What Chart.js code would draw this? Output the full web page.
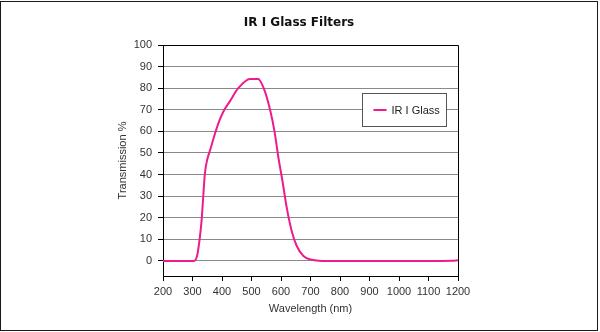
<!DOCTYPE html>
<html>
<head>
    <title>IR I Glass Filters</title>
    <style>
        body {
            margin: 0;
            background-color: #fff;
        }

        #wrap {
            position: relative;
            width: 600px;
            height: 332px;
        }

        #frame {
            position: absolute;
            left: 0;
            top: 1px;
            width: 598px;
            height: 330px;
            border: 1.5px solid #1a1a1a;
            box-sizing: border-box;
            pointer-events: none;
        }
    </style>
    <script src="https://cdn.jsdelivr.net/npm/chart.js"></script>
</head>
<body>
    <div id="wrap">
        <canvas id="chart"></canvas>
        <div id="frame"></div>
    </div>
    <script>
        // values
        var wavelengths = [200, 300, 305, 316, 325, 331, 337, 342, 350, 359, 373, 387, 404, 427, 455, 495, 523, 535, 548, 563, 578, 591, 605, 619, 636, 653, 676, 704, 740, 800, 900, 1000, 1100, 1180, 1200];
        var transmission = [0, 0, 0, 2.6, 11, 19, 31, 40.5, 47, 51, 57.5, 63.5, 69, 74, 80, 84.3, 84.3, 82, 77.5, 70, 60, 48, 37, 25, 14, 7, 2.3, 0.5, 0, 0, 0, 0, 0, 0.1, 0.3];
        var yTicks = [0, 10, 20, 30, 40, 50, 60, 70, 80, 90, 100];
        var seriesName = 'IR I Glass';
        var chartTitle = 'IR I Glass Filters';

        var fontFamily = "'Liberation Sans', Arial, sans-serif";
        var tickFont = { family: fontFamily, size: 11 };

        var points = wavelengths.map(function(w, i) {
            return { x: w, y: transmission[i] };
        });

        // title, right/top border of the plot and the boxed legend inside it
        var boxPlugin = {
            id: 'boxPlugin',
            beforeDatasetsDraw: function(chart) {
                var a = chart.chartArea;
                var ctx = chart.ctx;
                ctx.save();
                ctx.strokeStyle = '#000';
                ctx.lineWidth = 1;
                ctx.beginPath();
                ctx.moveTo(a.left, Math.round(a.top) + 0.5);
                ctx.lineTo(Math.round(a.right) + 0.5, Math.round(a.top) + 0.5);
                ctx.lineTo(Math.round(a.right) + 0.5, a.bottom);
                ctx.stroke();

                ctx.fillStyle = '#111';
                ctx.font = "bold 12px 'DejaVu Sans', Arial, sans-serif";
                ctx.textAlign = 'center';
                ctx.textBaseline = 'middle';
                ctx.fillText(chartTitle, 299, 23);
                ctx.restore();
            },
            afterDatasetsDraw: function(chart) {
                var a = chart.chartArea;
                var ctx = chart.ctx;
                var ds = chart.data.datasets[0];
                var x = Math.round(a.right) - 96 + 0.5;
                var y = Math.round(a.top) + 48 + 0.5;
                ctx.save();
                ctx.fillStyle = '#fff';
                ctx.fillRect(x, y, 84, 33);
                ctx.strokeStyle = '#555';
                ctx.lineWidth = 1;
                ctx.strokeRect(x, y, 84, 33);
                ctx.strokeStyle = ds.borderColor;
                ctx.lineWidth = 2;
                ctx.beginPath();
                ctx.moveTo(x + 11, y + 16.5);
                ctx.lineTo(x + 24, y + 16.5);
                ctx.stroke();
                ctx.fillStyle = '#222';
                ctx.font = tickFont.size + 'px ' + tickFont.family;
                ctx.textBaseline = 'middle';
                ctx.fillText(ds.label, x + 29, y + 17);
                ctx.restore();
            }
        };

        new Chart(document.getElementById('chart'), {
            type: 'line',
            data: {
                datasets: [{
                    label: seriesName,
                    data: points,
                    borderColor: '#ec1c8c',
                    borderWidth: 2,
                    pointRadius: 0,
                    cubicInterpolationMode: 'monotone',
                    fill: false
                }]
            },
            options: {
                responsive: true,
                maintainAspectRatio: false,
                animation: false,
                layout: {
                    padding: { left: 0, right: 142, top: 45, bottom: 0 }
                },
                plugins: {
                    legend: { display: false },
                    tooltip: { enabled: false },
                    title: { display: false }
                },
                scales: {
                    x: {
                        type: 'linear',
                        min: 200,
                        max: 1200,
                        ticks: {
                            stepSize: 100,
                            autoSkip: false,
                            color: '#333',
                            font: tickFont,
                            padding: 4,
                            maxRotation: 0,
                            callback: function(v) { return String(v); }
                        },
                        grid: {
                            drawOnChartArea: false,
                            drawTicks: true,
                            tickLength: 5,
                            tickColor: '#000'
                        },
                        border: { color: '#000', width: 1 },
                        title: {
                            display: true,
                            text: 'Wavelength (nm)',
                            color: '#333',
                            font: { family: fontFamily, size: 11, lineHeight: 1.2 },
                            padding: { top: 0, bottom: 16 }
                        },
                        afterFit: function(scale) {
                            scale.height = 56;
                        }
                    },
                    y: {
                        min: -7,
                        max: 100,
                        afterBuildTicks: function(scale) {
                            scale.ticks = yTicks.map(function(v) { return { value: v }; });
                        },
                        ticks: {
                            color: '#333',
                            font: tickFont,
                            padding: 6
                        },
                        grid: {
                            color: function(ctx) {
                                return ctx.tick && ctx.tick.value === 100 ? '#000' : '#8a8a8a';
                            },
                            tickLength: 5,
                            tickColor: '#000'
                        },
                        border: { color: '#000', width: 1 },
                        title: {
                            display: true,
                            text: 'Transmission %',
                            color: '#333',
                            font: { family: fontFamily, size: 11, lineHeight: 1.2 },
                            padding: { top: 116, bottom: 0 }
                        },
                        afterFit: function(scale) {
                            scale.width = 163;
                        }
                    }
                }
            },
            plugins: [boxPlugin]
        });
    </script>
</body>
</html>
